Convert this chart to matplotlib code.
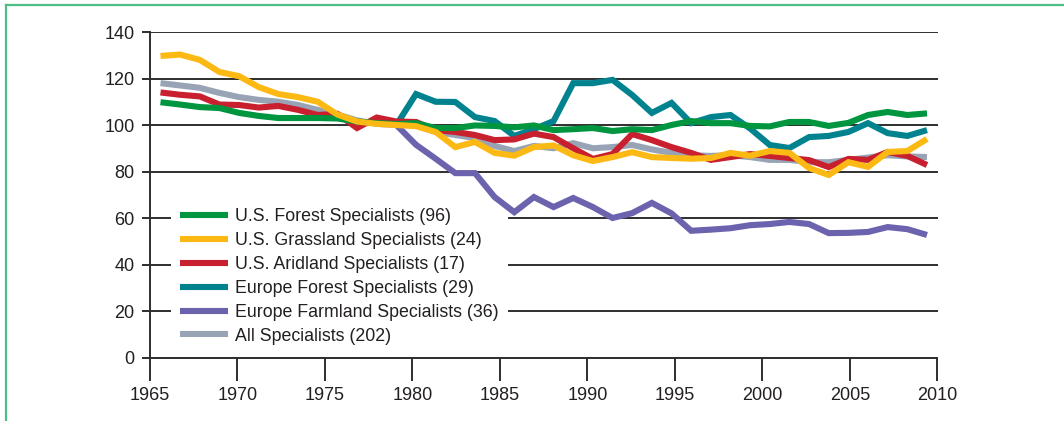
import numpy as np
import matplotlib
matplotlib.use("Agg")
import matplotlib.pyplot as plt
from matplotlib.lines import Line2D

plt.rcParams["font.family"] = ["Liberation Sans", "DejaVu Sans"]

# survey points, roughly one every 1.1 years
years = np.linspace(1965.6, 2009.4, 40)
nan = np.nan

us_forest = [109.8, 108.8, 107.7, 107.3, 105.2, 103.9, 103.0, 103.0, 103.0, 102.8,
             101.5, 100.8, 100.4, 100.8, 98.7, 98.7, 99.8, 99.6, 99.0, 99.8,
             97.8, 98.2, 98.7, 97.4, 98.2, 97.8, 100.0, 101.7, 100.8, 100.8,
             99.6, 99.4, 101.3, 101.3, 99.6, 100.9, 104.3, 105.6, 104.3, 105.0]
us_grassland = [129.7, 130.3, 128.0, 122.8, 121.0, 116.3, 113.3, 112.0, 110.0, 104.5,
                101.5, 100.5, 100.0, 99.5, 97.0, 90.5, 92.7, 88.0, 86.8, 90.5,
                91.2, 87.0, 84.5, 86.2, 88.3, 86.2, 85.8, 85.5, 85.8, 88.0,
                86.8, 88.8, 88.0, 81.5, 78.5, 84.0, 82.0, 88.4, 88.8, 94.0]
us_aridland = [114.0, 113.0, 112.3, 108.8, 108.6, 107.5, 108.2, 106.5, 104.3, 104.8,
               98.7, 103.2, 101.5, 101.3, 97.8, 97.0, 95.7, 93.5, 93.8, 96.3,
               94.8, 90.0, 85.4, 87.5, 96.1, 93.5, 90.5, 88.0, 85.0, 86.2,
               87.5, 86.7, 85.8, 84.9, 81.9, 85.4, 85.0, 88.4, 86.7, 82.8]
eu_forest = [nan] * 12 + [100.0, 113.3, 110.0, 109.9, 103.4, 101.7, 95.3, 98.2,
                          101.7, 118.0, 118.0, 119.4, 112.9, 105.2, 109.5, 100.8, 103.4, 104.3,
                          98.5, 91.4, 90.1, 94.8, 95.3, 97.0, 100.8, 96.5, 95.3, 97.8]
eu_farmland = [nan] * 12 + [100.0, 91.5, 85.5, 79.3, 79.3, 69.0, 62.5, 69.0,
                            64.7, 68.6, 64.7, 60.0, 62.1, 66.5, 62.0, 54.5, 55.0, 55.6,
                            56.9, 57.4, 58.3, 57.4, 53.5, 53.6, 54.0, 56.1, 55.2, 52.7]
all_spec = [118.0, 117.0, 116.0, 113.8, 112.0, 110.8, 110.0, 108.6, 106.5, 104.5,
            102.0, 100.5, 100.0, 100.0, 97.0, 95.7, 94.4, 91.0, 88.8, 91.0,
            90.0, 92.2, 90.0, 90.5, 91.4, 89.5, 88.0, 87.0, 86.7, 87.0,
            86.2, 85.0, 85.0, 84.0, 84.0, 85.0, 86.0, 87.0, 86.5, 86.2]

labels = ["U.S. Forest Specialists (96)", "U.S. Grassland Specialists (24)",
          "U.S. Aridland Specialists (17)", "Europe Forest Specialists (29)",
          "Europe Farmland Specialists (36)", "All Specialists (202)"]
series = [us_forest, us_grassland, us_aridland, eu_forest, eu_farmland, all_spec]
colours = ["#00953f", "#fdb913", "#c8202f", "#00838f", "#6c63ae", "#98a4b6"]
zorders = [6, 7, 5, 4, 3, 2]

fig = plt.figure(figsize=(10.64, 4.21), dpi=100)
ax = fig.add_axes([150 / 1064, 63.5 / 421, 787.5 / 1064, 325.5 / 421])

handles = []
for vals, lab, col, z in zip(series, labels, colours, zorders):
    h, = ax.plot(years, vals, color=col, lw=4.4, label=lab, zorder=z,
                 solid_joinstyle="miter", solid_capstyle="butt")
    handles.append(h)

ax.set_xlim(1965, 2010)
ax.set_ylim(0, 140)
ax.set_xticks(range(1965, 2011, 5))
ax.set_yticks(range(0, 141, 20))

ax.yaxis.grid(True, color="#2e2e2e", lw=1.4)
ax.set_axisbelow(True)
for s in ["top", "right"]:
    ax.spines[s].set_visible(False)
for s in ["left", "bottom"]:
    ax.spines[s].set_color("#2e2e2e")
    ax.spines[s].set_linewidth(1.4)

ax.tick_params(axis="y", length=6, width=1.4, color="#2e2e2e", pad=5,
               labelsize=13, labelcolor="#231f20")
ax.tick_params(axis="x", length=16.5, width=1.4, color="#2e2e2e", pad=5,
               labelsize=13, labelcolor="#231f20")

# white legend box hides the gridlines, the data lines stay on top of it
leg = ax.legend(handles=handles, loc="upper left", bbox_to_anchor=(0.027, 0.486),
                frameon=True, facecolor="white", edgecolor="none", framealpha=1,
                fancybox=False, fontsize=12.75, handlelength=2.7, handletextpad=0.42,
                labelspacing=0.39, borderpad=0.5, borderaxespad=0)
for t in leg.get_texts():
    t.set_color("#231f20")
leg.set_zorder(1.5)

# green frame on the top and left edge
frame_col = "#4cbd84"
fig.add_artist(Line2D([5.5 / 1064, 1], [1 - 5 / 421, 1 - 5 / 421], color=frame_col, lw=1.6))
fig.add_artist(Line2D([5.5 / 1064, 5.5 / 1064], [0, 1 - 5 / 421], color=frame_col, lw=1.6))

fig.savefig("out.png", dpi=100, facecolor="white")
